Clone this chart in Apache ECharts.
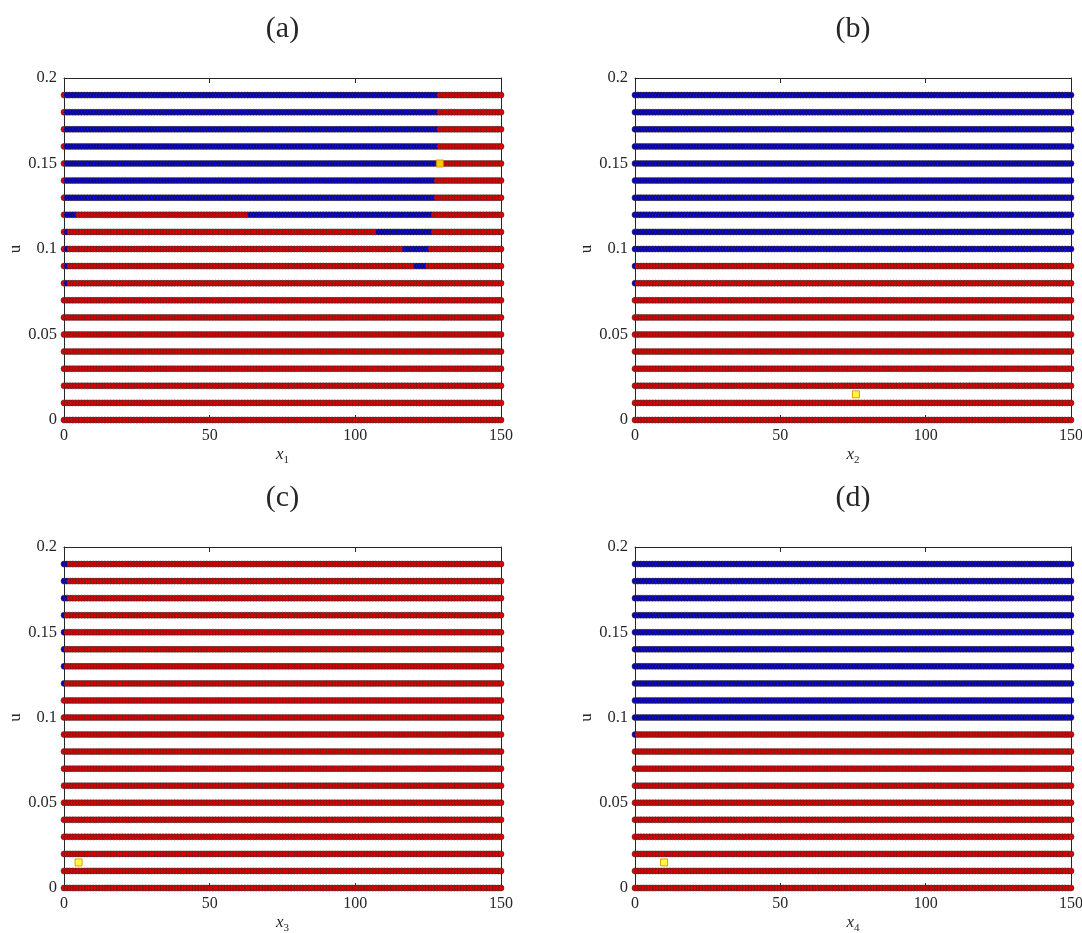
<!DOCTYPE html>
<html>
<head>
<meta charset="utf-8">
<title>Switching pattern over u and x</title>
<script src="https://cdn.jsdelivr.net/npm/echarts@6/dist/echarts.min.js"></script>
<style>
  html, body { margin: 0; padding: 0; background: #fff; }
  #chart { width: 1082px; height: 933px; }
</style>
</head>
<body>
<div id="chart"></div>
<script>
// Row levels of the parameter u
const uLevels = [0, 0.01, 0.02, 0.03, 0.04, 0.05, 0.06, 0.07, 0.08, 0.09,
                 0.10, 0.11, 0.12, 0.13, 0.14, 0.15, 0.16, 0.17, 0.18, 0.19];
// Sample grid along x (integer positions from xStart to xEnd)
const xStart = 0;
const xEnd = 150;
const xTicks = [0, 50, 100, 150];
const uTicks = [0, 0.05, 0.1, 0.15, 0.2];
const uTickLabels = ['0', '0.05', '0.1', '0.15', '0.2'];
const panelTitles = ['(a)', '(b)', '(c)', '(d)'];
const xNames = ['1', '2', '3', '4'];

// Blue runs per panel: [u, first x, last x]; everything else is red
const blueRunsA = [
  [0.19, 1, 128], [0.18, 1, 128], [0.17, 1, 128], [0.16, 1, 128], [0.15, 1, 128],
  [0.14, 1, 127], [0.13, 1, 127],
  [0.12, 1, 4], [0.12, 64, 126],
  [0.11, 1, 1], [0.11, 108, 126],
  [0.10, 1, 1], [0.10, 117, 125],
  [0.09, 1, 1], [0.09, 121, 124],
  [0.08, 1, 1]
];
const blueRunsB = [
  [0.19, 0, 150], [0.18, 0, 150], [0.17, 0, 150], [0.16, 0, 150], [0.15, 0, 150],
  [0.14, 0, 150], [0.13, 0, 150], [0.12, 0, 150], [0.11, 0, 150], [0.10, 0, 150],
  [0.09, 0, 0], [0.08, 0, 0]
];
const blueRunsC = [
  [0.19, 0, 1], [0.18, 0, 1], [0.17, 0, 1],
  [0.16, 0, 0], [0.15, 0, 0], [0.14, 0, 0], [0.13, 0, 0], [0.12, 0, 0]
];
const blueRunsD = [
  [0.19, 0, 150], [0.18, 0, 150], [0.17, 0, 150], [0.16, 0, 150], [0.15, 0, 150],
  [0.14, 0, 150], [0.13, 0, 150], [0.12, 0, 150], [0.11, 0, 150], [0.10, 0, 150],
  [0.09, 0, 0]
];
const blueRuns = [blueRunsA, blueRunsB, blueRunsC, blueRunsD];

// Highlighted point in each panel: [x, u]
const markerA = [129, 0.15];
const markerB = [76, 0.015];
const markerC = [5, 0.015];
const markerD = [10, 0.015];
const markers = [markerA, markerB, markerC, markerD];

const RED = '#dc0000';
const BLUE = '#0000c8';
const FONT = '"Liberation Serif", "DejaVu Serif", serif';
const INK = '#262626';

const grids = [
  { left: 64, top: 78, width: 437, height: 342 },
  { left: 635, top: 78, width: 436, height: 342 },
  { left: 64, top: 547, width: 437, height: 341 },
  { left: 635, top: 547, width: 436, height: 341 }
];

function isBlue(runs, u, x) {
  for (const r of runs) {
    if (Math.abs(r[0] - u) < 1e-9 && x >= r[1] && x <= r[2]) return true;
  }
  return false;
}

function panelData(runs) {
  const out = [];
  for (const u of uLevels) {
    for (let x = xStart; x <= xEnd; x++) {
      out.push([x, u, isBlue(runs, u, x) ? 1 : 0]);
    }
  }
  return out;
}

const xAxes = [], yAxes = [], series = [], graphics = [];
grids.forEach((g, i) => {
  const common = {
    gridIndex: i, min: 0, max: 150, interval: 50,
    axisLine: { show: true, onZero: false, lineStyle: { color: INK, width: 1 } },
    axisTick: { show: true, inside: true, length: 5, lineStyle: { color: INK } },
    splitLine: { show: false }
  };
  xAxes.push(Object.assign({}, common, {
    type: 'value', position: 'bottom',
    axisLabel: { show: true, fontFamily: FONT, fontSize: 16, color: INK, margin: 8 },
    name: '{i|x}{s|' + xNames[i] + '}',
    nameLocation: 'middle', nameGap: 24,
    nameTextStyle: {
      rich: {
        i: { fontFamily: FONT, fontStyle: 'italic', fontSize: 17, color: INK, lineHeight: 22, verticalAlign: 'middle' },
        s: { fontFamily: FONT, fontSize: 11, color: INK, lineHeight: 22, verticalAlign: 'bottom', padding: [10, 0, 0, 0] }
      }
    }
  }));
  xAxes.push(Object.assign({}, common, {
    type: 'value', position: 'top', axisLabel: { show: false }
  }));
  const ycommon = {
    gridIndex: i, min: 0, max: 0.2, interval: 0.05,
    axisLine: { show: true, onZero: false, lineStyle: { color: INK, width: 1 } },
    axisTick: { show: true, inside: true, length: 5, lineStyle: { color: INK } },
    splitLine: { show: false }
  };
  yAxes.push(Object.assign({}, ycommon, {
    type: 'value', position: 'left',
    axisLabel: {
      show: true, fontFamily: FONT, fontSize: 16.5, color: INK, margin: 7,
      formatter: v => {
        const k = uTicks.findIndex(t => Math.abs(t - v) < 1e-9);
        return k >= 0 ? uTickLabels[k] : '';
      }
    },
    name: 'u', nameLocation: 'middle', nameGap: 38, nameRotate: 90,
    nameTextStyle: { fontFamily: FONT, fontSize: 17, color: INK }
  }));
  yAxes.push(Object.assign({}, ycommon, {
    type: 'value', position: 'right', axisLabel: { show: false }
  }));

  series.push({
    type: 'scatter',
    xAxisIndex: 2 * i, yAxisIndex: 2 * i,
    data: panelData(blueRuns[i]),
    symbol: 'circle', symbolSize: 6,
    clip: false, silent: true, animation: false,
    itemStyle: {
      color: p => (p.data[2] === 1 ? BLUE : RED),
      borderColor: '#3a2a2a', borderWidth: 0.6, opacity: 1
    },
    z: 2
  });
  series.push({
    type: 'scatter',
    xAxisIndex: 2 * i, yAxisIndex: 2 * i,
    data: [markers[i]],
    symbol: 'rect', symbolSize: 7,
    clip: false, silent: true, animation: false,
    itemStyle: { color: '#ffff00', borderColor: '#e07a00', borderWidth: 1 },
    z: 5
  });

  graphics.push({
    type: 'text',
    x: g.left + g.width / 2, y: g.top - 64,
    style: {
      text: panelTitles[i], fontFamily: FONT, fontSize: 30, fill: INK,
      textAlign: 'center', textVerticalAlign: 'top'
    }
  });
});

const chart = echarts.init(document.getElementById('chart'), null, { renderer: 'canvas' });
chart.setOption({
  backgroundColor: '#ffffff',
  animation: false,
  grid: grids.map(g => Object.assign({ containLabel: false, outerBoundsMode: 'none' }, g)),
  xAxis: xAxes,
  yAxis: yAxes,
  series: series,
  graphic: graphics
});
</script>
</body>
</html>
